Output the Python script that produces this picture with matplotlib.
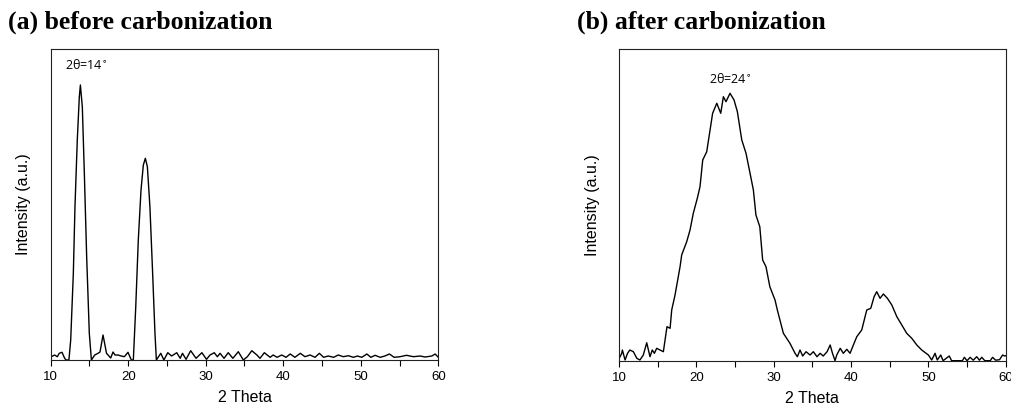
import numpy as np
import matplotlib
matplotlib.use('Agg')
import matplotlib.pyplot as plt
from matplotlib.ticker import MultipleLocator

# (a) до карбонизации: угол 2θ и интенсивность (отн. ед.)
theta_a = [10.0, 10.1, 10.5, 10.85, 11.1, 11.46, 11.8, 12.0, 12.35, 12.58, 12.92, 13.13, 13.43,
           13.69, 13.83, 14.08, 14.34, 14.64, 14.98, 15.25, 15.68, 16.1, 16.36, 16.75, 17.2,
           17.4, 17.74, 18.04, 18.3, 18.68, 19.1, 19.5, 19.97, 20.4, 20.66, 20.97, 21.3, 21.65,
           21.95, 22.21, 22.47, 22.8, 23.15, 23.45, 23.63, 24.2, 24.6, 25.1, 25.6, 26.26, 26.7,
           27.0, 27.46, 28.06, 28.75, 29.5, 30.1, 30.55, 31.1, 31.5, 31.85, 32.36, 32.9, 33.5,
           34.2, 34.85, 35.37, 35.94, 36.6, 37.0, 37.56, 38.3, 38.7, 39.2, 39.8, 40.36, 40.9,
           41.5, 42.2, 42.8, 43.46, 44.1, 44.66, 45.2, 45.8, 46.5, 47.1, 47.75, 48.4, 49.05,
           49.56, 50.13, 50.78, 51.3, 51.84, 52.5, 53.1, 53.7, 54.3, 55.07, 55.9, 56.8, 57.65,
           58.3, 59.16, 59.6, 60.0]
inten_a = [3.0, 3.3, 5.0, 3.3, 6.7, 7.7, 1.7, 0.0, 0.0, 20.0, 86.7, 153.0, 220.0,
           263.0, 275.0, 253.0, 186.7, 103.0, 26.7, 0.0, 5.0, 6.7, 8.0, 25.0, 6.7,
           5.0, 2.0, 8.0, 5.0, 5.0, 4.0, 3.3, 7.7, 0.0, 0.0, 53.0, 120.0, 170.0,
           195.0, 201.7, 193.3, 153.0, 86.7, 26.7, 0.0, 6.7, 0.0, 7.3, 4.0, 7.3, 1.7,
           6.7, 0.7, 9.3, 1.7, 7.3, 0.7, 5.0, 7.3, 3.3, 6.7, 1.7, 7.3, 1.7,
           8.3, 0.0, 3.3, 9.3, 5.0, 1.7, 7.3, 2.7, 5.0, 2.7, 5.0, 2.7, 6.0,
           2.7, 6.7, 3.3, 5.0, 2.7, 6.7, 2.7, 4.0, 2.7, 5.0, 3.3, 4.3, 2.7,
           4.0, 2.7, 6.0, 2.7, 4.7, 2.7, 4.0, 6.0, 2.7, 3.3, 4.7, 3.3, 4.0,
           3.0, 4.0, 6.0, 2.7]

# (b) после карбонизации
theta_b = [10.0, 10.35, 10.43, 10.78, 11.1, 11.4, 11.85, 12.3, 12.7, 13.14, 13.58, 14.0, 14.3,
           14.57, 14.87, 15.3, 15.73, 16.2, 16.6, 16.81, 17.24, 17.89, 18.1, 18.75, 19.18,
           19.6, 20.12, 20.47, 20.82, 21.34, 21.77, 22.1, 22.64, 23.15, 23.49, 23.83, 24.35,
           24.87, 25.3, 25.87, 26.42, 26.94, 27.37, 27.7, 28.2, 28.57, 29.0, 29.5, 30.17,
           30.47, 31.25, 32.1, 32.76, 33.06, 33.4, 33.75, 34.18, 34.7, 35.12, 35.6, 36.0,
           36.4, 36.9, 37.3, 37.6, 37.93, 38.15, 38.6, 39.0, 39.45, 39.87, 40.3, 40.74,
           41.38, 42.03, 42.55, 42.98, 43.32, 43.75, 44.18, 44.7, 45.27, 45.92, 46.56, 47.2,
           47.85, 48.5, 49.14, 50.0, 50.43, 50.86, 51.15, 51.6, 51.9, 52.7, 53.0, 54.4,
           54.65, 55.0, 55.4, 55.8, 56.25, 56.6, 56.9, 57.3, 58.0, 58.3, 58.7, 59.2,
           59.6, 59.85, 60.0]
inten_b = [2.0, 7.4, 10.7, 0.7, 7.4, 10.7, 9.0, 2.4, 0.7, 5.7, 18.0, 4.0, 10.7,
           7.4, 12.4, 10.7, 9.0, 34.0, 32.4, 50.7, 65.7, 94.0, 105.7, 119.0, 130.7,
           147.4, 162.4, 174.0, 200.7, 209.0, 230.7, 247.4, 257.4, 247.4, 264.0, 259.0, 267.4,
           260.7, 249.0, 220.7, 207.4, 187.4, 170.7, 145.7, 134.0, 100.7, 94.0, 74.0, 60.7,
           50.7, 27.4, 17.4, 7.4, 4.0, 10.7, 4.7, 9.0, 5.7, 9.0, 4.0, 7.4,
           4.7, 9.0, 15.7, 7.4, 0.0, 5.7, 12.4, 7.4, 11.4, 7.4, 15.7, 24.0,
           30.7, 50.7, 52.4, 64.0, 69.0, 62.4, 66.7, 62.4, 55.7, 44.0, 35.7, 27.4,
           22.4, 15.7, 10.7, 5.7, 0.7, 7.4, 0.7, 5.7, 0.0, 4.7, 0.0, 0.0,
           3.4, 0.0, 3.4, 0.5, 4.0, 0.5, 3.4, 0.0, 0.0, 3.4, 0.5, 1.0,
           5.7, 4.7, 5.0]

fig = plt.figure(figsize=(10.12, 4.12), dpi=100)
ax1 = fig.add_axes([0.0501, 0.1262, 0.383, 0.7549])
ax2 = fig.add_axes([0.6117, 0.1245, 0.3821, 0.7566])

def style(ax, ymax):
    ax.set_xlim(10, 60)
    ax.set_ylim(0, ymax)
    ax.xaxis.set_major_locator(MultipleLocator(10))
    ax.xaxis.set_minor_locator(MultipleLocator(5))
    ax.tick_params(axis='x', which='both', direction='out', length=4, width=0.8,
                   labelsize=9.5, pad=4, top=False, labelfontfamily='Liberation Sans')
    ax.set_yticks([])
    for s in ax.spines.values():
        s.set_linewidth(0.8)
        s.set_color('#222222')
    ax.set_xlabel('2 Theta', fontsize=11.5, labelpad=5, family='Liberation Sans')
    ax.set_ylabel('Intensity (a.u.)', fontsize=11.5, labelpad=14, family='Liberation Sans')

ax1.plot(theta_a, inten_a, color='black', lw=1.0)
style(ax1, 311)
ax1.text(11.85, 295, '2θ=14$^{\\circ}$', fontsize=9, ha='left', va='center', family='Open Sans')

ax2.plot(theta_b, inten_b, color='black', lw=1.0)
style(ax2, 311.7)
ax2.text(24.35, 282, '2θ=24$^{\\circ}$', fontsize=9, ha='center', va='center', family='Open Sans')

fig.text(0.008, 0.947, '(a) before carbonization', fontsize=18.5, fontweight='bold',
         family='Liberation Serif', ha='left', va='center')
fig.text(0.570, 0.947, '(b) after carbonization', fontsize=18.5, fontweight='bold',
         family='Liberation Serif', ha='left', va='center')

fig.savefig('out.png', dpi=100)
